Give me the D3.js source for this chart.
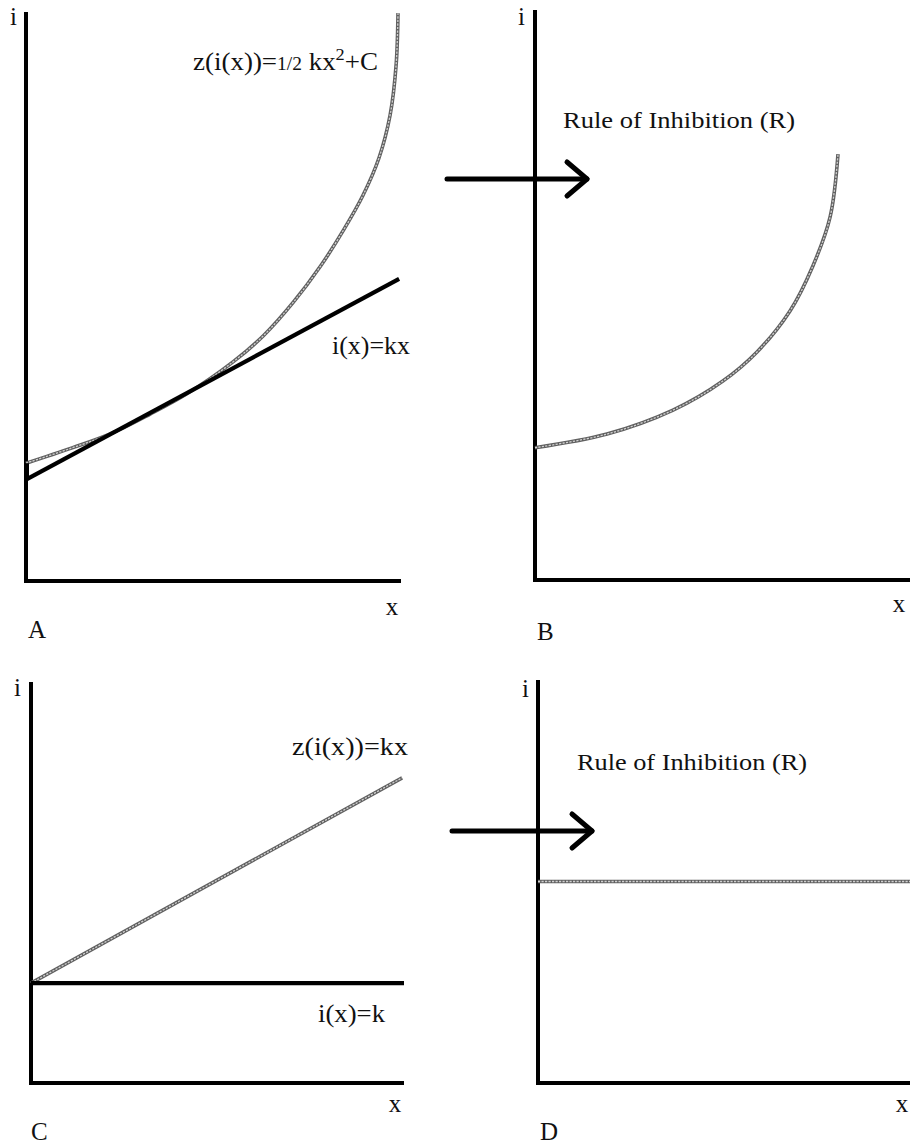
<!DOCTYPE html>
<html>
<head>
<meta charset="utf-8">
<script src="https://cdn.jsdelivr.net/npm/d3@7"></script>
<style>
  html, body { margin: 0; padding: 0; background: #fff; }
  svg text { font-family: "Liberation Serif", Tinos, "Times New Roman", Times, serif; fill: #111; }
</style>
</head>
<body>
<svg id="chart" width="910" height="1145"></svg>
<script>
// ---------------- DATA (panel units: x 0..100 along x-axis, y 0..100 up the i-axis) ----------------
const curveA_x = [0, 12.3, 22.3, 33.0, 42.9, 55.2, 63.3, 71.3, 78.6, 84.7, 89.8, 94.1, 97.1, 98.7, 99.2];
const curveA_y = [20.7, 23.4, 25.8, 29.3, 32.9, 38.5, 43.1, 49.0, 55.4, 61.7, 67.7, 74.3, 81.9, 90.7, 99.8];
const lineA_x = [0, 99.5];
const lineA_y = [17.8, 53.1];

const curveB_x = [0, 19.2, 36.8, 50.1, 59.2, 68.0, 74.1, 78.7, 80.8];
const curveB_y = [23.2, 25.6, 29.8, 34.9, 40.0, 47.2, 55.1, 63.7, 74.7];

const lineC_z_x = [0, 99.5];
const lineC_z_y = [24.9, 76.1];
const lineC_i_x = [0, 100];
const lineC_i_y = [24.9, 24.9];

const lineD_x = [0, 100];
const lineD_y = [50, 50];

const panelLetters = ["A", "B", "C", "D"];
const axisLabelY = "i";
const axisLabelX = "x";
const ruleLabel = "Rule of Inhibition (R)";

// ---------------- LAYOUT ----------------
const svg = d3.select("#chart");
const FONT = "'Liberation Serif', Tinos, 'Times New Roman', Times, serif";
const panels = {
  A: {x0: 26, x1: 401, yTop: 12, yBot: 581},
  B: {x0: 535, x1: 910, yTop: 10, yBot: 580},
  C: {x0: 31, x1: 404, yTop: 682, yBot: 1083},
  D: {x0: 538, x1: 910, yTop: 680, yBot: 1083}
};
const labelPos = {
  A: {i: [10, 25], x: [392, 615], L: [28, 638]},
  B: {i: [518, 25], x: [899, 612], L: [537, 640]},
  C: {i: [14, 696], x: [395, 1112], L: [31, 1140]},
  D: {i: [522, 697], x: [902, 1112], L: [540, 1140]}
};

function scales(p) {
  return {
    x: d3.scaleLinear().domain([0, 100]).range([p.x0, p.x1]),
    y: d3.scaleLinear().domain([0, 100]).range([p.yBot, p.yTop])
  };
}

function drawAxes(p) {
  const g = svg.append("g");
  g.append("line").attr("x1", p.x0).attr("x2", p.x0).attr("y1", p.yTop).attr("y2", p.yBot + 2)
    .attr("stroke", "#000").attr("stroke-width", 4);
  g.append("line").attr("x1", p.x0 - 2).attr("x2", p.x1).attr("y1", p.yBot).attr("y2", p.yBot)
    .attr("stroke", "#000").attr("stroke-width", 4);
}

function series(xs, ys) { return xs.map((x, i) => [x, ys[i]]); }

function drawBlack(s, data, curve) {
  const gen = d3.line().x(d => s.x(d[0])).y(d => s.y(d[1])).curve(curve || d3.curveLinear);
  svg.append("path").attr("d", gen(data)).attr("fill", "none")
    .attr("stroke", "#000").attr("stroke-width", 4.2).attr("stroke-linecap", "butt");
}

function drawGray(s, data, curve) {
  const gen = d3.line().x(d => s.x(d[0])).y(d => s.y(d[1])).curve(curve || d3.curveLinear);
  const d = gen(data);
  svg.append("path").attr("d", d).attr("fill", "none")
    .attr("stroke", "#606060").attr("stroke-width", 3.6);
  svg.append("path").attr("d", d).attr("fill", "none")
    .attr("stroke", "#d0d0d0").attr("stroke-width", 1.3).attr("stroke-dasharray", "2.2,1.3");
}

function label(txt, x, y, size, len) {
  const t = svg.append("text").attr("x", x).attr("y", y).attr("font-size", size)
    .style("font-family", FONT).text(txt);
  if (len) t.attr("textLength", len).attr("lengthAdjust", "spacingAndGlyphs");
  return t;
}

function arrow(x0, x1, y) {
  const g = svg.append("g").attr("fill", "none").attr("stroke", "#000")
    .attr("stroke-width", 5).attr("stroke-linecap", "round").attr("stroke-linejoin", "round");
  g.append("line").attr("x1", x0).attr("x2", x1).attr("y1", y).attr("y2", y);
  g.append("path").attr("d", d3.line()([[x1 - 20, y - 17], [x1, y], [x1 - 20, y + 17]]));
}

const smooth = d3.curveCatmullRom.alpha(0.5);

// ---------------- PANEL A ----------------
const sA = scales(panels.A);
drawAxes(panels.A);
drawGray(sA, series(curveA_x, curveA_y), smooth);
drawBlack(sA, series(lineA_x, lineA_y));
svg.append("line").attr("x1", panels.A.x0 + 1.5).attr("x2", panels.A.x0 + 1.5)
  .attr("y1", sA.y(curveA_y[0])).attr("y2", sA.y(lineA_y[0]))
  .attr("stroke", "#000").attr("stroke-width", 3);

const zA = svg.append("text").attr("x", 193).attr("y", 70).attr("font-size", 25)
  .style("font-family", FONT)
  .attr("textLength", 185).attr("lengthAdjust", "spacingAndGlyphs");
zA.append("tspan").text("z(i(x))=");
zA.append("tspan").attr("font-size", 18).text("1/2");
zA.append("tspan").text(" kx");
zA.append("tspan").attr("font-size", 17).attr("dy", -10).text("2");
zA.append("tspan").attr("dy", 10).text("+C");
label("i(x)=kx", 332, 354, 25, 78);

// ---------------- PANEL B ----------------
const sB = scales(panels.B);
drawAxes(panels.B);
drawGray(sB, series(curveB_x, curveB_y), smooth);
label(ruleLabel, 563, 128, 24, 232);
arrow(447, 587, 179);

// ---------------- PANEL C ----------------
const sC = scales(panels.C);
drawAxes(panels.C);
drawGray(sC, series(lineC_z_x, lineC_z_y));
drawBlack(sC, series(lineC_i_x, lineC_i_y));
label("z(i(x))=kx", 292, 755, 25, 116);
label("i(x)=k", 318, 1022, 25, 67);

// ---------------- PANEL D ----------------
const sD = scales(panels.D);
drawAxes(panels.D);
drawGray(sD, series(lineD_x, lineD_y));
label(ruleLabel, 577, 770, 24, 230);
arrow(452, 592, 831);

// ---------------- axis labels and panel letters ----------------
["A", "B", "C", "D"].forEach((k, i) => {
  const lp = labelPos[k];
  label(axisLabelY, lp.i[0], lp.i[1], 25);
  label(axisLabelX, lp.x[0], lp.x[1], 25).attr("text-anchor", "middle");
  label(panelLetters[i], lp.L[0], lp.L[1], 25);
});
</script>
</body>
</html>
